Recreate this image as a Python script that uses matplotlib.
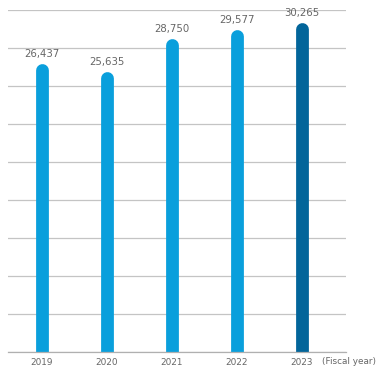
import matplotlib
matplotlib.use("Agg")
import matplotlib.pyplot as plt
import numpy as np

years = ["2019", "2020", "2021", "2022", "2023"]
values = [26437, 25635, 28750, 29577, 30265]
colors = ["#0a9fdc", "#0a9fdc", "#0a9fdc", "#0a9fdc", "#02659a"]

fig = plt.figure(figsize=(3.81, 3.75), dpi=100)
ax = fig.add_axes([8 / 381, 1 - 352 / 375, 338 / 381, 342.5 / 375])

x = np.arange(len(years))
ymax = 32100
for xi, v, c in zip(x, values, colors):
    ax.vlines(xi, -2000, v, colors=c, linewidth=9.2, capstyle="round")
    ax.text(xi, v + 1050, f"{v:,}", ha="center", va="bottom",
            fontsize=7.3, color="#666666")

ax.set_xlim(-0.523, 4.677)
ax.set_ylim(0, ymax)
ax.set_yticks(np.linspace(0, ymax, 10))
ax.yaxis.grid(True, color="#c4c4c4", linewidth=0.9)
ax.set_axisbelow(True)
ax.tick_params(axis="y", left=False, labelleft=False)
ax.set_xticks(x)
ax.set_xticklabels(years, fontsize=6.4, color="#666666")
ax.tick_params(axis="x", length=0, pad=4)
for s in ["top", "right", "left"]:
    ax.spines[s].set_visible(False)
ax.spines["bottom"].set_color("#b0b0b0")
ax.spines["bottom"].set_linewidth(0.9)

ax.text(4.31, -0.016, "(Fiscal year)", transform=ax.get_xaxis_transform(),
        ha="left", va="top", fontsize=6.4, color="#666666")

fig.savefig("out.png", dpi=100)
